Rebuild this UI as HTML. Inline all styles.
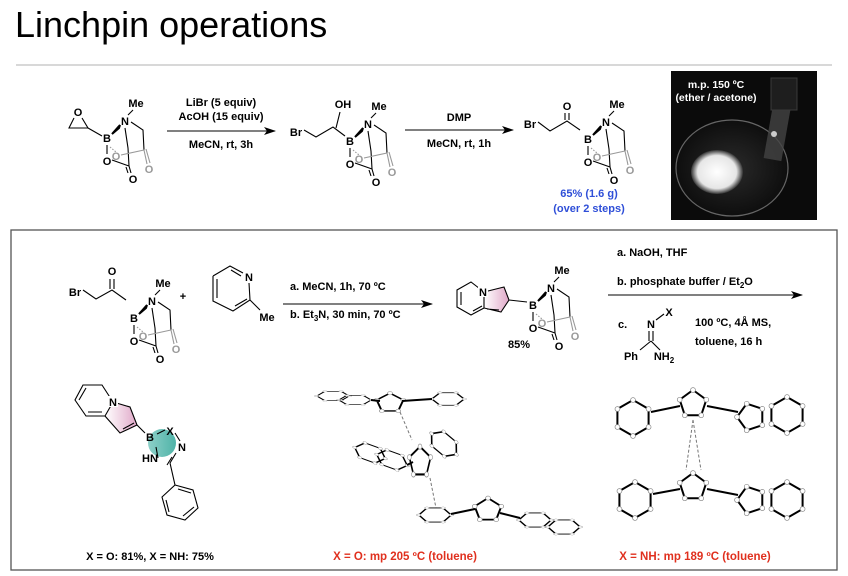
<!DOCTYPE html>
<html><head><meta charset="utf-8"><style>
html,body{margin:0;padding:0;background:#fff;}
svg{display:block;font-family:"Liberation Sans",Arial,sans-serif;}
.t{font-size:11px;font-weight:bold;fill:#000;}
.g{font-size:11px;font-weight:bold;fill:#999;}
.b{stroke:#000;stroke-width:1.1;fill:none;}
.gb{stroke:#999;stroke-width:1.1;fill:none;}
.x{stroke:#000;stroke-width:2;fill:none;}
</style></head><body>
<svg width="848" height="576" viewBox="0 0 848 576" xmlns="http://www.w3.org/2000/svg">
<defs>
<marker id="m" markerWidth="8" markerHeight="8" refX="4" refY="4" markerUnits="userSpaceOnUse"><circle cx="4" cy="4" r="2.4" fill="#fff" stroke="#888" stroke-width="0.7"/></marker>
<marker id="ar" markerWidth="12" markerHeight="8" refX="11" refY="4" markerUnits="userSpaceOnUse" orient="auto"><path d="M0,0 L12,4 L0,8 L3,4 Z" fill="#000"/></marker>
<polygon id="hex" points="18,0 9,15.6 -9,15.6 -18,0 -9,-15.6 9,-15.6" class="x" marker-start="url(#m)" marker-mid="url(#m)"/>
<polygon id="pen" points="0,-14 13.3,-4.3 8.2,11.3 -8.2,11.3 -13.3,-4.3" class="x" marker-start="url(#m)" marker-mid="url(#m)"/>
<g id="cage">
<text x="0" y="4" class="t" text-anchor="middle">B</text>
<text x="18" y="-13" class="t" text-anchor="middle">N</text>
<text x="29" y="-31" class="t" text-anchor="middle">Me</text>
<text x="0" y="27" class="t" text-anchor="middle">O</text>
<text x="9" y="22" class="g" text-anchor="middle">O</text>
<text x="42" y="35" class="g" text-anchor="middle">O</text>
<text x="26" y="45" class="t" text-anchor="middle">O</text>
<path d="M5,-4 L13,-13 L12,-10 Z" fill="#000" stroke="#000" stroke-width="2"/>
<path d="M21,-23 L26,-28" class="b"/>
<path d="M24,-16 L36,-8 L37,12" class="b"/>
<path d="M18,-10 L21,10 L22,28" class="b"/>
<path d="M0,7 L0,16" class="b"/>
<path d="M5,22 L22,28 M22,28 L24,35 M19,29 L21,35" class="b"/>
<path d="M3,9 L9,14" class="gb" stroke-dasharray="1.5,1.5"/>
<path d="M14,17 L37,12 L40,26 M39,11 L43,25" class="gb"/>
</g>
</defs>

<text x="15" y="37" font-size="36" fill="#000">Linchpin operations</text>
<line x1="16" y1="65" x2="832" y2="65" stroke="#ccc" stroke-width="1.5"/>

<!-- epoxide -->
<text x="78" y="116" class="t" text-anchor="middle">O</text>
<path d="M74,118 L69,128 L88,128 L82,118 M88,128 L102,136" class="b"/>
<use href="#cage" x="107" y="138"/>

<line x1="167" y1="131" x2="275" y2="131" class="b" marker-end="url(#ar)"/>
<text x="221" y="106" class="t" text-anchor="middle">LiBr (5 equiv)</text>
<text x="221" y="120" class="t" text-anchor="middle">AcOH (15 equiv)</text>
<text x="221" y="148" class="t" text-anchor="middle">MeCN, rt, 3h</text>

<!-- bromohydrin -->
<text x="296" y="136" class="t" text-anchor="middle">Br</text>
<text x="343" y="108" class="t" text-anchor="middle">OH</text>
<path d="M304,130 L316,137 L333,127 L345,136 M336,128 L340,112" class="b"/>
<use href="#cage" x="350" y="141"/>

<line x1="405" y1="130" x2="513" y2="130" class="b" marker-end="url(#ar)"/>
<text x="459" y="121" class="t" text-anchor="middle">DMP</text>
<text x="459" y="147" class="t" text-anchor="middle">MeCN, rt, 1h</text>

<!-- bromoketone -->
<text x="530" y="128" class="t" text-anchor="middle">Br</text>
<text x="567" y="110" class="t" text-anchor="middle">O</text>
<path d="M538,122 L550,131 L567,121 L580,130 M565,120 L565,113 M569,120 L569,113" class="b"/>
<use href="#cage" x="588" y="139"/>
<text x="589" y="197" font-size="11" font-weight="bold" fill="#2f4fd8" text-anchor="middle">65% (1.6 g)</text>
<text x="589" y="212" font-size="11" font-weight="bold" fill="#2f4fd8" text-anchor="middle">(over 2 steps)</text>

<!-- photo -->
<defs><radialGradient id="pw"><stop offset="0" stop-color="#fff"/><stop offset="0.75" stop-color="#e6e6e6"/><stop offset="1" stop-color="#333"/></radialGradient>
<radialGradient id="bw"><stop offset="0" stop-color="#2a2a2a"/><stop offset="1" stop-color="#0e0e0e"/></radialGradient></defs>
<rect x="671" y="71" width="146" height="149" fill="#0b0b0b"/>
<ellipse cx="732" cy="168" rx="56" ry="48" fill="url(#bw)" stroke="#666" stroke-width="1.2"/>
<ellipse cx="717" cy="172" rx="26" ry="22" fill="url(#pw)"/>
<rect x="768" y="108" width="18" height="52" fill="#444" opacity="0.8" transform="rotate(10 777 134)"/>
<rect x="771" y="78" width="26" height="32" fill="#1e1e1e" stroke="#3a3a3a"/>
<circle cx="774" cy="134" r="3" fill="#ccc"/>
<text x="716" y="88" font-size="10.5" font-weight="bold" fill="#fff" text-anchor="middle">m.p. 150 ºC</text>
<text x="716" y="101" font-size="10.5" font-weight="bold" fill="#fff" text-anchor="middle">(ether / acetone)</text>

<!-- box -->
<rect x="11" y="230" width="826" height="340" fill="none" stroke="#555" stroke-width="1.3"/>

<text x="75" y="296" class="t" text-anchor="middle">Br</text>
<text x="112" y="275" class="t" text-anchor="middle">O</text>
<path d="M83,290 L96,299 L112,290 L126,300 M110,289 L110,279 M114,289 L114,279" class="b"/>
<use href="#cage" x="134" y="318"/>
<text x="183" y="300" class="t" text-anchor="middle">+</text>
<!-- picoline -->
<path d="M213,276 L230,266 L243,273 M249,283 L250,300 L233,311 L213,301 L213,276 M217,279 L217,298 M231,270 L241,276 M235,306 L247,299 M250,300 L260,310" class="b"/>
<text x="249" y="281" class="t" text-anchor="middle">N</text>
<text x="267" y="321" class="t" text-anchor="middle">Me</text>

<line x1="283" y1="304" x2="432" y2="304" class="b" marker-end="url(#ar)"/>
<text x="290" y="290" class="t">a. MeCN, 1h, 70 ºC</text>
<text x="290" y="318" class="t">b. Et<tspan font-size="8" dy="3">3</tspan><tspan dy="-3">N, 30 min, 70 ºC</tspan></text>

<!-- indolizine MIDA -->
<defs><linearGradient id="pk" x1="0" x2="1"><stop offset="0" stop-color="#fff"/><stop offset="1" stop-color="#e0a8c8"/></linearGradient>
<linearGradient id="tl" x1="0" x2="1"><stop offset="0" stop-color="#8dd0c8"/><stop offset="1" stop-color="#4fb3a8"/></linearGradient></defs>
<polygon points="484,292 504,287 509,300 501,312 484,308" fill="url(#pk)"/>
<path d="M484,292 L504,287 L509,300 L501,312 L484,308 Z M484,292 L471,282 L457,290 L457,307 L471,315 L484,308 M461,292 L461,305 M473,311 L482,306 M487,309 L499,310 M509,300 L527,302" class="b"/>
<rect x="478" y="286" width="10" height="11" fill="#fff"/>
<text x="483" y="296" class="t" text-anchor="middle">N</text>
<use href="#cage" x="533" y="305"/>
<text x="519" y="348" class="t" text-anchor="middle">85%</text>

<line x1="608" y1="295" x2="802" y2="295" class="b" marker-end="url(#ar)"/>
<text x="617" y="256" class="t">a. NaOH, THF</text>
<text x="617" y="285" class="t">b. phosphate buffer / Et<tspan font-size="8" dy="3">2</tspan><tspan dy="-3">O</tspan></text>
<text x="618" y="328" class="t">c.</text>
<text x="651" y="328" class="t" text-anchor="middle">N</text>
<text x="669" y="316" class="t" text-anchor="middle">X</text>
<text x="631" y="360" class="t" text-anchor="middle">Ph</text>
<text x="664" y="360" class="t" text-anchor="middle">NH<tspan font-size="8" dy="3">2</tspan></text>
<path d="M656,320 L664,314 M649,331 L649,341 M653,331 L653,341 M651,341 L640,350 M651,341 L660,350" class="b"/>
<text x="695" y="326" class="t">100 ºC, 4Å MS,</text>
<text x="695" y="345" class="t">toluene, 16 h</text>

<!-- product -->
<polygon points="113,402 130,407 137,425 120,433 105,416" fill="url(#pk)"/>
<circle cx="162" cy="443" r="14" fill="url(#tl)"/>
<path d="M113,402 L130,407 L137,425 L120,433 L105,416 Z M105,416 L86,416 L75,400 L83,385 L102,385 L113,402 M79,400 L86,388 M88,412 L102,412 M123,429 L134,423 M137,425 L145,433" class="b"/>
<path d="M157,434 L165,430 M175,433 L180,441 M176,453 L170,463 M158,458 L156,447 M172,457 L167,465 M170,463 L175,485 M175,485 L193,490 L198,508 L185,520 L167,515 L162,497 Z M178,489 L191,493 M183,516 L194,507 M166,500 L169,512" class="b"/>
<rect x="108" y="396" width="10" height="11" fill="#fff"/>
<text x="113" y="406" class="t" text-anchor="middle">N</text>
<text x="150" y="441" class="t" text-anchor="middle">B</text>
<text x="170" y="435" class="t" text-anchor="middle">X</text>
<text x="182" y="451" class="t" text-anchor="middle">N</text>
<text x="150" y="462" class="t" text-anchor="middle">HN</text>
<text x="150" y="560" class="t" text-anchor="middle" font-size="11.5">X = O: 81%, X = NH: 75%</text>

<!-- middle crystal -->
<use href="#hex" transform="translate(333,396) scale(0.9,0.3)"/>
<use href="#hex" transform="translate(355,400) scale(0.9,0.3)"/>
<use href="#pen" transform="translate(390,403) scale(1,0.7)"/>
<use href="#hex" transform="translate(448,399) scale(0.9,0.4)"/>
<line x1="371" y1="400" x2="380" y2="401" class="x"/><line x1="402" y1="401" x2="432" y2="399" class="x"/>
<line x1="400" y1="412" x2="412" y2="440" stroke="#777" stroke-dasharray="3,2"/>
<use href="#hex" transform="translate(370,453) rotate(20) scale(0.9,0.5)"/>
<use href="#hex" transform="translate(392,460) rotate(20) scale(0.9,0.5)"/>
<use href="#pen" transform="translate(420,462) scale(0.8,1.1)"/>
<use href="#hex" transform="translate(444,444) rotate(40) scale(0.9,0.6)"/>
<line x1="407" y1="465" x2="413" y2="462" class="x"/>
<line x1="430" y1="478" x2="436" y2="508" stroke="#777" stroke-dasharray="3,2"/>
<use href="#hex" transform="translate(435,515) scale(0.9,0.45)"/>
<use href="#pen" transform="translate(488,510) scale(1,0.85)"/>
<use href="#hex" transform="translate(535,520) scale(0.9,0.45)"/>
<use href="#hex" transform="translate(564,527) scale(0.9,0.45)"/>
<line x1="451" y1="514" x2="475" y2="509" class="x"/><line x1="500" y1="513" x2="520" y2="518" class="x"/>
<text x="405" y="560" font-size="11.5" font-weight="bold" fill="#e0301e" text-anchor="middle">X = O: mp 205 ºC (toluene)</text>

<!-- right crystal -->
<use href="#hex" transform="translate(633,418) rotate(30)"/>
<use href="#pen" transform="translate(693,404)"/>
<use href="#pen" transform="translate(751,417) rotate(-90)"/>
<use href="#hex" transform="translate(787,415) rotate(30)"/>
<line x1="651" y1="412" x2="680" y2="406" class="x"/><line x1="707" y1="406" x2="738" y2="412" class="x"/>
<line x1="693" y1="420" x2="686" y2="470" stroke="#777" stroke-dasharray="3,2"/>
<line x1="693" y1="420" x2="701" y2="470" stroke="#777" stroke-dasharray="3,2"/>
<use href="#hex" transform="translate(635,500) rotate(30)"/>
<use href="#pen" transform="translate(693,487)"/>
<use href="#pen" transform="translate(751,500) rotate(-90)"/>
<use href="#hex" transform="translate(787,500) rotate(30)"/>
<line x1="653" y1="494" x2="680" y2="489" class="x"/><line x1="707" y1="489" x2="738" y2="495" class="x"/>
<text x="695" y="560" font-size="11.5" font-weight="bold" fill="#e0301e" text-anchor="middle">X = NH: mp 189 ºC (toluene)</text>
</svg>
</body></html>
